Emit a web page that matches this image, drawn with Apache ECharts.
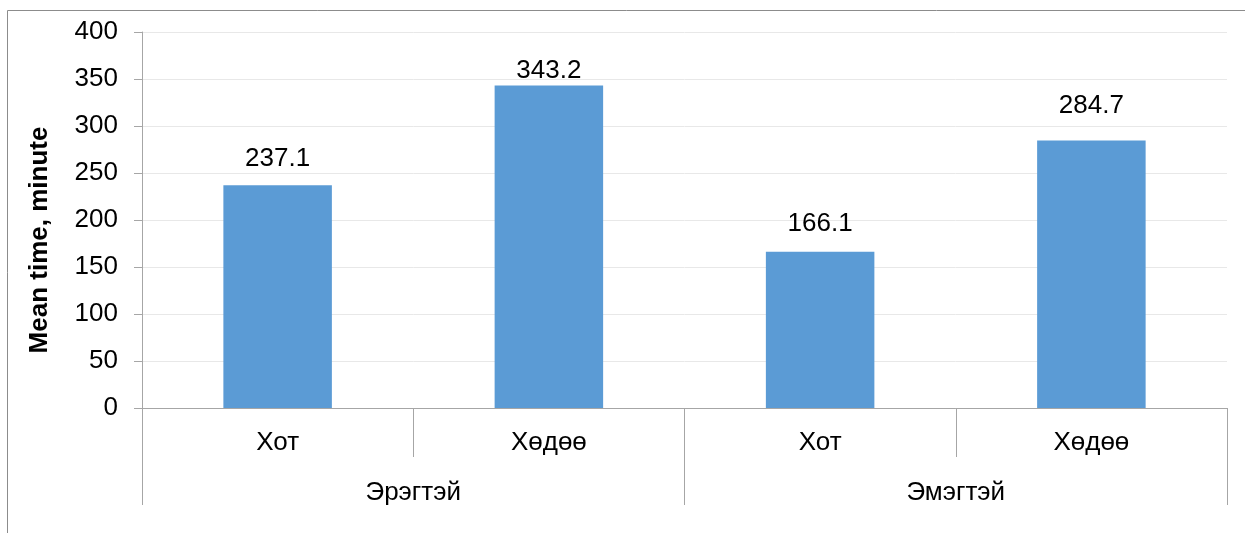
<!DOCTYPE html>
<html>
<head>
<meta charset="utf-8">
<script src="https://cdn.jsdelivr.net/npm/echarts@6/dist/echarts.min.js"></script>
<style>
  html, body { margin: 0; padding: 0; background: #fff; }
  #chart { width: 1245px; height: 533px; }
</style>
</head>
<body>
<div id="chart"></div>
<script>
// area categories (inner level) and gender groups (outer level)
var areas = ['Хот', 'Хөдөө', 'Хот', 'Хөдөө'];
var genders = ['Эрэгтэй', 'Эмэгтэй'];
var meanTime = [237.1, 343.2, 166.1, 284.7];
var yTicks = { min: 0, max: 400, step: 50 };
var yTitle = 'Mean time, minute';
// gap between bar top and its label, as in the original
var labelGaps = [13, 2, 15, 22];

var font = 'Liberation Sans, Arial, sans-serif';
var myChart = echarts.init(document.getElementById('chart'));

var option = {
  animation: false,
  textStyle: { fontFamily: font },
  graphic: [{
    type: 'rect',
    shape: { x: 7.5, y: 10.5, width: 1400, height: 700 },
    style: { fill: 'none', stroke: '#8c8c8c', lineWidth: 1 },
    silent: true
  }, {
    type: 'text',
    x: 40,
    y: 240,
    rotation: Math.PI / 2,
    style: {
      text: yTitle,
      fill: '#000',
      font: 'bold 26px ' + font,
      align: 'center',
      verticalAlign: 'middle'
    },
    silent: true
  }],
  grid: { left: 142, right: 18, top: 32, bottom: 125, containLabel: false },
  xAxis: [{
    type: 'category',
    data: areas,
    position: 'bottom',
    axisLine: { lineStyle: { color: '#a6a6a6', width: 1 } },
    axisTick: { show: true, interval: 0, length: 49, lineStyle: { color: '#a6a6a6' } },
    axisLabel: { interval: 0, color: '#000', fontSize: 26, margin: 22, fontFamily: font }
  }, {
    type: 'category',
    data: genders,
    position: 'bottom',
    offset: 0,
    axisLine: { show: false },
    axisTick: { show: true, interval: 0, length: 97, lineStyle: { color: '#a6a6a6' } },
    axisLabel: { interval: 0, color: '#000', fontSize: 26, margin: 72, fontFamily: font }
  }],
  yAxis: {
    type: 'value',
    min: yTicks.min,
    max: yTicks.max,
    interval: yTicks.step,
    axisLine: { show: true, lineStyle: { color: '#a6a6a6', width: 1 } },
    axisTick: { show: true, length: 8, lineStyle: { color: '#a6a6a6' } },
    axisLabel: { color: '#000', fontSize: 26, margin: 24, fontFamily: font },
    splitLine: { lineStyle: { color: '#e8e8e8', width: 1 } }
  },
  series: [{
    type: 'bar',
    xAxisIndex: 0,
    barWidth: '40%',
    data: meanTime.map(function (v, i) {
      return { value: v, label: { distance: labelGaps[i] } };
    }),
    itemStyle: { color: '#5b9bd5' },
    label: {
      show: true,
      position: 'top',
      color: '#000',
      fontSize: 26,
      fontFamily: font,
      formatter: function (p) { return p.value.toFixed(1); }
    }
  }]
};

myChart.setOption(option);
</script>
</body>
</html>
